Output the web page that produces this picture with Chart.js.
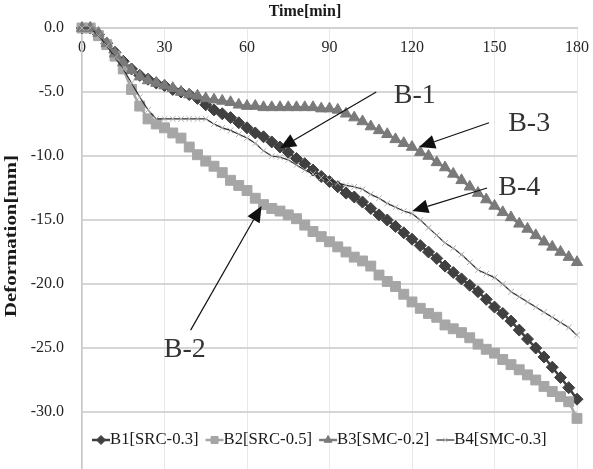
<!DOCTYPE html>
<html>
<head>
<meta charset="utf-8">
<script src="https://cdn.jsdelivr.net/npm/chart.js@4.4.1/dist/chart.umd.min.js"></script>
<style>
  html, body { margin: 0; padding: 0; background: #fff; overflow: hidden; }
  #deformChart { display: block; width: 593px; height: 490px; }
</style>
</head>
<body>
<canvas id="deformChart" width="593" height="490"></canvas>
<script>
// time axis, minutes
const times = [0, 3, 6, 9, 12, 15, 18, 21, 24, 27, 30, 33, 36, 39, 42, 45, 48, 51, 54, 57,
    60, 63, 66, 69, 72, 75, 78, 81, 84, 87, 90, 93, 96, 99, 102, 105, 108, 111, 114, 117,
    120, 123, 126, 129, 132, 135, 138, 141, 144, 147, 150, 153, 156, 159, 162, 165, 168, 171, 174, 177, 180];

// deformation [mm]
const b1 = [0, 0, -0.5, -1.2, -1.9, -2.6, -3.2, -3.7, -4.0, -4.3, -4.5, -4.8, -5.0, -5.2, -5.5, -6.0, -6.4, -6.7, -7.0, -7.4,
    -7.8, -8.2, -8.5, -8.9, -9.3, -9.7, -10.2, -10.6, -11.1, -11.6, -12.0, -12.4, -12.9, -13.2, -13.6, -14.1, -14.6, -15.0, -15.5, -16.0,
    -16.5, -17.0, -17.5, -18.0, -18.6, -19.1, -19.6, -20.1, -20.6, -21.2, -21.8, -22.3, -22.9, -23.6, -24.3, -25.0, -25.7, -26.5, -27.3, -28.1, -29.0];
const b2 = [0, 0, -0.6, -1.3, -2.2, -3.2, -4.8, -6.1, -7.1, -7.5, -7.8, -8.2, -8.6, -9.3, -9.9, -10.4, -10.8, -11.3, -11.9, -12.3,
    -12.7, -13.3, -13.8, -14.1, -14.3, -14.6, -14.9, -15.4, -15.9, -16.3, -16.7, -17.1, -17.5, -17.9, -18.2, -18.6, -19.3, -19.8, -20.2, -20.8,
    -21.4, -21.9, -22.3, -22.6, -23.2, -23.5, -23.8, -24.2, -24.7, -25.1, -25.4, -25.9, -26.3, -26.7, -27.1, -27.5, -28.0, -28.4, -28.8, -29.2, -30.5];
const b3 = [0, 0, -0.4, -1.2, -2.0, -2.7, -3.3, -3.8, -4.1, -4.3, -4.5, -4.7, -5.0, -5.2, -5.3, -5.5, -5.6, -5.7, -5.8, -6.0,
    -6.1, -6.1, -6.2, -6.2, -6.2, -6.2, -6.2, -6.2, -6.2, -6.3, -6.3, -6.4, -6.7, -7.0, -7.3, -7.7, -8.0, -8.3, -8.7, -9.0,
    -9.3, -9.7, -10.0, -10.5, -10.9, -11.4, -11.9, -12.4, -12.9, -13.4, -13.9, -14.4, -14.8, -15.3, -15.7, -16.2, -16.7, -17.1, -17.5, -17.9, -18.3];
const b4 = [0, 0, -0.6, -1.4, -2.3, -3.2, -4.3, -5.4, -6.4, -7.1, -7.1, -7.1, -7.1, -7.1, -7.1, -7.1, -7.5, -7.8, -8.0, -8.3,
    -8.6, -9.0, -9.6, -10.0, -10.1, -10.3, -10.7, -11.1, -11.4, -11.7, -11.9, -12.1, -12.3, -12.4, -12.6, -13.0, -13.3, -13.7, -14.0, -14.3,
    -14.5, -15.0, -15.6, -16.2, -16.8, -17.2, -17.7, -18.3, -18.9, -19.2, -19.5, -20.0, -20.6, -21.0, -21.4, -21.8, -22.2, -22.6, -23.0, -23.4, -24.0];

const seriesNames = ['B1[SRC-0.3]', 'B2[SRC-0.5]', 'B3[SMC-0.2]', 'B4[SMC-0.3]'];

// callouts: label, arrow tip, arrow tail, label centre (in time / deformation units)
const calloutNames = ['B-1', 'B-2', 'B-3', 'B-4'];
const calloutTips = [[72, -9.4], [65.3, -13.9], [122.6, -9.3], [120.1, -14.3]];
const calloutTails = [[107, -5.0], [39.5, -23.6], [148, -7.4], [147.3, -12.5]];
const calloutText = [[121, -5.3], [37.4, -25.1], [162.6, -7.5], [159, -12.5]];

const SERIF = '"Liberation Serif", "Times New Roman", serif';

function pts(vals) {
    return times.map((t, i) => ({ x: t, y: vals[i] }));
}

function drawArrow(ctx, x1, y1, x2, y2) {
    const ang = Math.atan2(y2 - y1, x2 - x1);
    const hl = 16, hw = 7;
    const bx = x2 - hl * Math.cos(ang), by = y2 - hl * Math.sin(ang);
    ctx.beginPath();
    ctx.moveTo(x1, y1);
    ctx.lineTo(bx, by);
    ctx.stroke();
    ctx.beginPath();
    ctx.moveTo(x2, y2);
    ctx.lineTo(bx + hw * Math.sin(ang), by - hw * Math.cos(ang));
    ctx.lineTo(bx - hw * Math.sin(ang), by + hw * Math.cos(ang));
    ctx.closePath();
    ctx.fill();
}

const sheetExtras = {
    id: 'sheetExtras',
    afterDraw(chart) {
        const { ctx, chartArea, scales: { x, y } } = chart;
        ctx.save();

        // axis titles
        ctx.fillStyle = '#1a1a1a';
        ctx.textAlign = 'center';
        ctx.textBaseline = 'middle';
        ctx.font = 'bold 16px ' + SERIF;
        ctx.fillText('Time[min]', 305, 12);

        const yt = 'Deformation[mm]';
        const w = ctx.measureText(yt).width;
        ctx.save();
        ctx.translate(12, 236);
        ctx.rotate(-Math.PI / 2);
        ctx.scale(162 / w, 1);
        ctx.fillText(yt, 0, 0);
        ctx.restore();

        // callout arrows
        ctx.strokeStyle = '#111';
        ctx.fillStyle = '#111';
        ctx.lineWidth = 1.2;
        calloutNames.forEach((name, i) => {
            const tx = x.getPixelForValue(calloutTails[i][0]), ty = y.getPixelForValue(calloutTails[i][1]);
            const hx = x.getPixelForValue(calloutTips[i][0]), hy = y.getPixelForValue(calloutTips[i][1]);
            drawArrow(ctx, tx, ty, hx, hy);
        });
        ctx.font = '28px ' + SERIF;
        ctx.fillStyle = '#333';
        calloutNames.forEach((name, i) => {
            ctx.fillText(name, x.getPixelForValue(calloutText[i][0]), y.getPixelForValue(calloutText[i][1]));
        });

        // legend, drawn over the plot like the spreadsheet one
        ctx.font = '16.7px ' + SERIF;
        ctx.textAlign = 'left';
        let lx = chartArea.left + 10;
        const ly = 440;
        chart.data.datasets.forEach(ds => {
            ctx.strokeStyle = ds.borderColor;
            ctx.lineWidth = ds.borderWidth;
            ctx.beginPath();
            ctx.moveTo(lx, ly);
            ctx.lineTo(lx + 18, ly);
            ctx.stroke();
            ctx.fillStyle = ds.pointBackgroundColor;
            ctx.strokeStyle = ds.pointBorderColor;
            ctx.lineWidth = ds.pointBorderWidth;
            Chart.helpers.drawPoint(ctx, {
                pointStyle: ds.pointStyle,
                radius: ds.legendRadius,
                borderWidth: ds.pointBorderWidth,
                rotation: 0
            }, lx + 9, ly);
            ctx.fillStyle = '#1a1a1a';
            ctx.fillText(ds.label, lx + 18, ly);
            lx += 18 + ctx.measureText(ds.label).width + 7;
        });

        ctx.restore();
    }
};

new Chart(document.getElementById('deformChart'), {
    type: 'line',
    data: {
        datasets: [
            {
                label: seriesNames[0],
                data: pts(b1),
                borderColor: '#404040',
                borderWidth: 2.5,
                pointStyle: 'rectRot',
                pointRadius: 6,
                pointBackgroundColor: '#404040',
                pointBorderColor: '#404040',
                pointBorderWidth: 1,
                legendRadius: 4.5,
                order: 4,
                clip: 12
            },
            {
                label: seriesNames[1],
                data: pts(b2),
                borderColor: '#a6a6a6',
                borderWidth: 2.5,
                pointStyle: 'rect',
                pointRadius: 7,
                pointBackgroundColor: '#a6a6a6',
                pointBorderColor: '#a6a6a6',
                pointBorderWidth: 1,
                legendRadius: 5,
                order: 3,
                clip: 12
            },
            {
                label: seriesNames[2],
                data: pts(b3),
                borderColor: '#7a7a7a',
                borderWidth: 2.5,
                pointStyle: 'triangle',
                pointRadius: 6.5,
                pointBackgroundColor: '#7a7a7a',
                pointBorderColor: '#7a7a7a',
                pointBorderWidth: 1,
                legendRadius: 4.5,
                order: 2,
                clip: 12
            },
            {
                label: seriesNames[3],
                data: pts(b4),
                borderColor: '#2b2b2b',
                borderWidth: 1.2,
                pointStyle: 'crossRot',
                pointRadius: 4,
                pointBackgroundColor: '#b0b0b0',
                pointBorderColor: '#b0b0b0',
                pointBorderWidth: 1,
                legendRadius: 3,
                order: 1,
                clip: 12
            }
        ]
    },
    options: {
        responsive: false,
        maintainAspectRatio: false,
        devicePixelRatio: 1,
        animation: false,
        events: [],
        layout: {
            padding: { left: 0, right: 16, top: 0, bottom: 14 }
        },
        elements: {
            line: { tension: 0 }
        },
        scales: {
            x: {
                type: 'linear',
                position: 'top',
                min: 0,
                max: 180,
                afterFit(scale) {
                    scale.height = 28;
                    scale.paddingLeft = 0;
                    scale.paddingRight = 0;
                },
                grid: {
                    color: '#e8e8e8',
                    lineWidth: 1,
                    drawTicks: false
                },
                border: { color: '#d2d2d2', width: 2 },
                ticks: {
                    stepSize: 30,
                    maxRotation: 0,
                    mirror: true,
                    padding: 10.4,
                    color: '#262626',
                    font: { family: SERIF, size: 16 }
                }
            },
            y: {
                min: -35,
                max: 0,
                afterFit(scale) {
                    scale.width = 82;
                    scale.paddingTop = 0;
                    scale.paddingBottom = 0;
                },
                grid: {
                    color: '#d6d6d6',
                    lineWidth: 2,
                    drawTicks: false
                },
                border: { color: '#c8c8c8', width: 1.5 },
                ticks: {
                    stepSize: 5,
                    padding: 18,
                    color: '#262626',
                    font: { family: SERIF, size: 16 },
                    callback: function(value) {
                        return value.toFixed(1);
                    }
                }
            }
        },
        plugins: {
            legend: { display: false },
            tooltip: { enabled: false }
        }
    },
    plugins: [sheetExtras]
});
</script>
</body>
</html>
